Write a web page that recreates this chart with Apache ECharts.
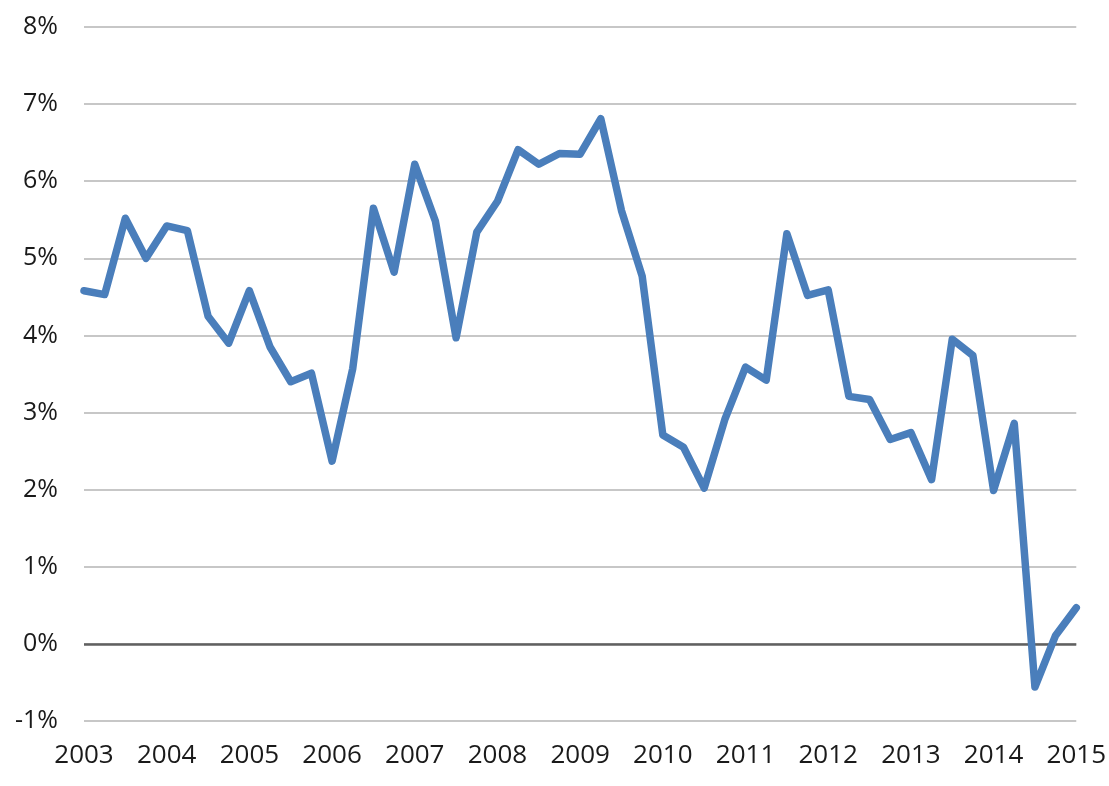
<!DOCTYPE html>
<html>
<head>
<meta charset="utf-8">
<script src="https://cdn.jsdelivr.net/npm/echarts@6/dist/echarts.min.js"></script>
<style>
  html, body { margin: 0; padding: 0; background: #fff; }
  #container { width: 1109px; height: 786px; }
</style>
</head>
<body>
<div id="container"></div>
<script>
// quarters 2003Q1 .. 2015Q1
var quarters = [];
for (var y = 2003; y <= 2015; y++) {
  for (var q = 1; q <= 4; q++) {
    if (y === 2015 && q > 1) break;
    quarters.push(y + 'Q' + q);
  }
}

// growth, percent
var growth = [
  4.58, 4.53, 5.52, 5.00,
  5.42, 5.36, 4.25, 3.90,
  4.58, 3.85, 3.40, 3.51,
  2.37, 3.57, 5.65, 4.82,
  6.22, 5.48, 3.97, 5.34,
  5.74, 6.41, 6.22, 6.36,
  6.35, 6.81, 5.62, 4.77,
  2.71, 2.55, 2.02, 2.91,
  3.59, 3.42, 5.32, 4.52,
  4.59, 3.21, 3.17, 2.65,
  2.74, 2.13, 3.95, 3.74,
  1.99, 2.86, -0.56, 0.11,
  0.47
];

var yTicks = { min: -1, max: 8, step: 1 };

var dom = document.getElementById('container');
var myChart = echarts.init(dom);

var font = '"Open Sans", "Noto Sans", sans-serif';

var option = {
  animation: false,
  backgroundColor: '#fff',
  grid: { left: 84, right: 30, top: 27, bottom: 65 },

  // x axis: one label per year, on Q1
  xAxis: {
    type: 'category',
    data: quarters,
    boundaryGap: false,
    axisLine: { show: false },
    axisTick: { show: false },
    splitLine: { show: false },
    axisLabel: {
      interval: 3,
      margin: 22,
      color: '#1a1a1a',
      fontFamily: font,
      fontSize: 26,
      formatter: function (v) { return v.slice(0, 4); }
    }
  },
  yAxis: {
    type: 'value',
    min: yTicks.min,
    max: yTicks.max,
    interval: yTicks.step,
    axisLine: { show: false },
    axisTick: { show: false },
    axisLabel: {
      margin: 26,
      color: '#1a1a1a',
      fontFamily: font,
      fontSize: 25,
      formatter: '{value}%'
    },
    splitLine: { lineStyle: { color: '#b5b5b5', width: 1.5 } }
  },
  series: [{
    type: 'line',
    data: growth,
    showSymbol: false,
    symbol: 'none',
    lineStyle: { color: '#4a7ebb', width: 7.5, cap: 'round', join: 'round' },
    // darker zero line
    markLine: {
      silent: true,
      symbol: 'none',
      label: { show: false },
      lineStyle: { color: '#606060', width: 2.5, type: 'solid' },
      data: [{ yAxis: 0 }],
      z: 1
    },
    z: 3
  }]
};

myChart.setOption(option, true);
</script>
</body>
</html>
